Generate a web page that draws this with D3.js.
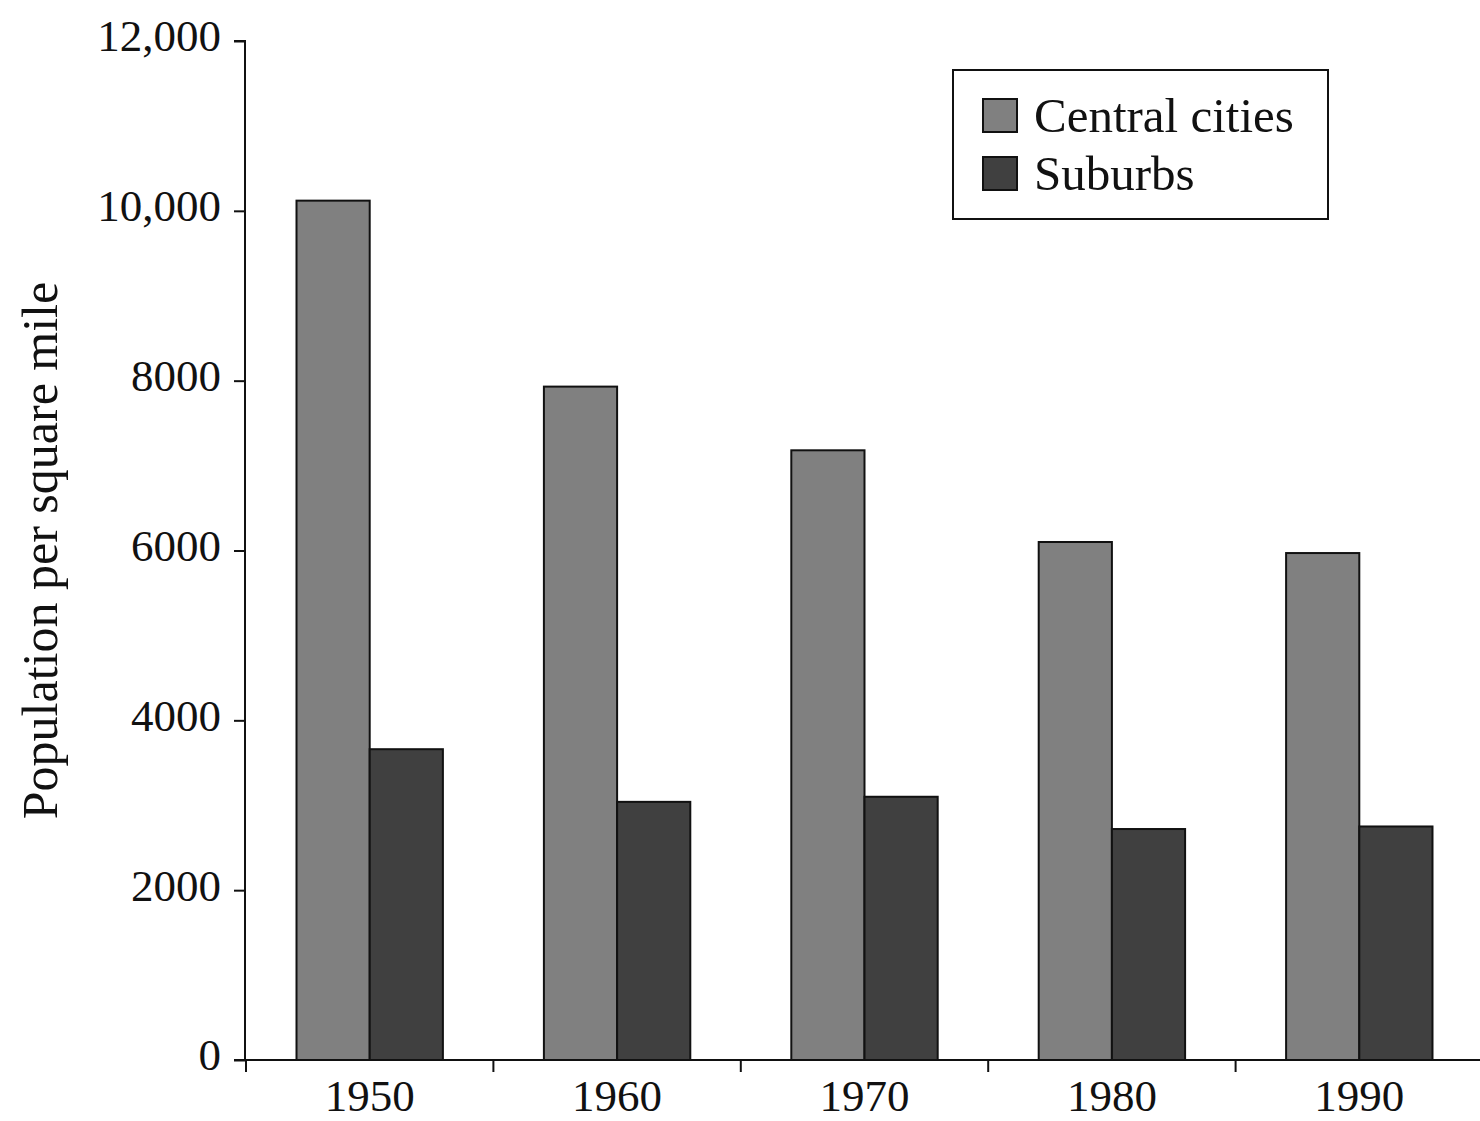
<!DOCTYPE html>
<html>
<head>
<meta charset="utf-8">
<script src="https://cdn.jsdelivr.net/npm/d3@7"></script>
<style>
  html, body { margin: 0; padding: 0; background: #fff; }
  svg { display: block; }
  text { font-family: "Liberation Serif", "DejaVu Serif", serif; fill: #111; }
</style>
</head>
<body>
<svg id="chart" width="1480" height="1121"></svg>
<script>
const years = ["1950", "1960", "1970", "1980", "1990"];
const seriesNames = ["Central cities", "Suburbs"];
const centralCities = [10120, 7930, 7180, 6100, 5970];
const suburbs = [3660, 3040, 3100, 2720, 2750];
const yTickValues = [0, 2000, 4000, 6000, 8000, 10000, 12000];
const yTickLabels = ["0", "2000", "4000", "6000", "8000", "10,000", "12,000"];
const colors = ["#808080", "#404040"];

const svg = d3.select("#chart");
const mLeft = 245, mTop = 41, mBottom = 1060;

const x0 = d3.scaleBand().domain(years).range([246, 1483]).paddingInner(0).paddingOuter(0);
const x1 = d3.scaleBand().domain(seriesNames).range([0, x0.bandwidth()]).paddingInner(0).paddingOuter(0.69);
const y = d3.scaleLinear().domain([0, 12000]).range([mBottom, mTop]);

const data = years.map((yr, i) => ({ year: yr, values: [
  { name: seriesNames[0], value: centralCities[i] },
  { name: seriesNames[1], value: suburbs[i] }
]}));

// bars
const groups = svg.append("g").selectAll("g").data(data).join("g")
  .attr("transform", d => `translate(${x0(d.year)},0)`);
groups.selectAll("rect").data(d => d.values).join("rect")
  .attr("x", d => x1(d.name))
  .attr("y", d => y(d.value))
  .attr("width", x1.bandwidth())
  .attr("height", d => y(0) - y(d.value))
  .attr("fill", (d, i) => colors[i])
  .attr("stroke", "#111")
  .attr("stroke-width", 2);

// y axis
const yAxis = d3.axisLeft(y).tickValues(yTickValues)
  .tickFormat((d, i) => yTickLabels[i]).tickSize(11).tickPadding(13);
const gy = svg.append("g").attr("transform", `translate(${mLeft},0)`).call(yAxis);
gy.select(".domain").attr("stroke", "#111").attr("stroke-width", 2).attr("d", `M-11,${mTop}H0V${mBottom}`);
gy.selectAll(".tick line").attr("stroke", "#111").attr("stroke-width", 2);
gy.selectAll(".tick text").style("font-size", "45px").attr("dy", "0.22em")
  .style("font-family", "Liberation Serif, serif").attr("fill", "#111");

// x axis
const xAxis = d3.axisBottom(x0).tickSize(0).tickPadding(19);
const gx = svg.append("g").attr("transform", `translate(0,${mBottom})`).call(xAxis);
gx.select(".domain").attr("stroke", "#111").attr("stroke-width", 2).attr("d", `M${mLeft - 11},0H1480`);
gx.selectAll(".tick text").style("font-size", "45px").attr("dy", "0.71em")
  .style("font-family", "Liberation Serif, serif").attr("fill", "#111");
// boundary ticks between categories
const boundaries = years.map(yr => x0(yr));
svg.append("g").selectAll("line").data(boundaries).join("line")
  .attr("x1", d => d).attr("x2", d => d)
  .attr("y1", mBottom).attr("y2", mBottom + 12)
  .attr("stroke", "#111").attr("stroke-width", 2);

// y title
svg.append("text")
  .attr("transform", `translate(57,${(mTop + mBottom) / 2}) rotate(-90)`)
  .attr("text-anchor", "middle")
  .style("font-size", "50px")
  .text("Population per square mile");

// legend
const lg = svg.append("g");
lg.append("rect").attr("x", 953).attr("y", 70).attr("width", 375).attr("height", 149)
  .attr("fill", "#fff").attr("stroke", "#111").attr("stroke-width", 2);
seriesNames.forEach((name, i) => {
  const yy = 99 + i * 58;
  lg.append("rect").attr("x", 983).attr("y", yy).attr("width", 34).attr("height", 33)
    .attr("fill", colors[i]).attr("stroke", "#111").attr("stroke-width", 2);
  lg.append("text").attr("x", 1034).attr("y", yy + 33).style("font-size", "49px").text(name);
});
</script>
</body>
</html>
